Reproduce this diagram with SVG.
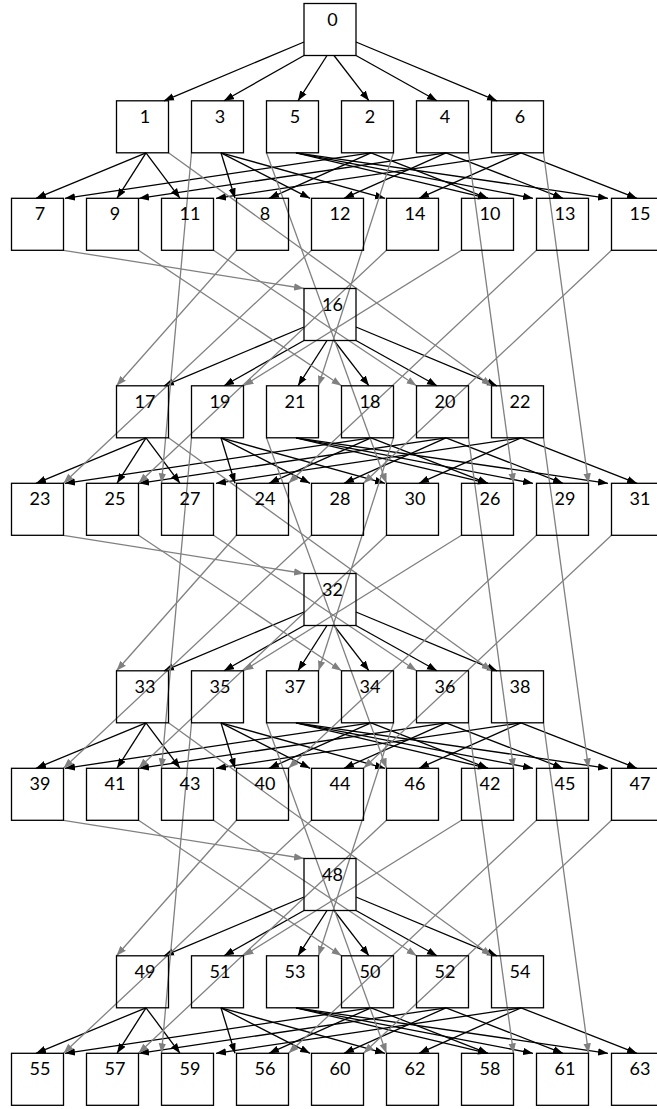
<svg xmlns="http://www.w3.org/2000/svg" width="657" height="1109" viewBox="0 0 657 1109">
<style>
.n rect{fill:none;stroke:#000;stroke-width:1.3}
.n text{font-family:Lato,"Liberation Sans",sans-serif;font-size:18px;text-anchor:middle;fill:#000}
.b line{stroke:#000;stroke-width:1.3;marker-end:url(#ab)}
.g line{stroke:#808080;stroke-width:1.3;marker-end:url(#ag)}
</style>
<defs>
<marker id="ab" markerUnits="userSpaceOnUse" markerWidth="10" markerHeight="8" refX="10" refY="4" orient="auto"><path d="M0,0.3 L10,4 L0,7.7 z" fill="#000"/></marker>
<marker id="ag" markerUnits="userSpaceOnUse" markerWidth="10" markerHeight="8" refX="10" refY="4" orient="auto"><path d="M0,0.3 L10,4 L0,7.7 z" fill="#808080"/></marker>
</defs>
<rect width="657" height="1109" fill="#fff"/>
<g id="connectors">
<g class="b">
<g transform="translate(0,0)">
<line x1="304" y1="42" x2="164" y2="100.8"/><line x1="304" y1="55.5" x2="224" y2="100.8"/><line x1="327" y1="55.5" x2="298" y2="100.8"/><line x1="334" y1="55.5" x2="369" y2="100.8"/><line x1="356" y1="55.5" x2="437" y2="100.8"/><line x1="356" y1="42" x2="497" y2="100.8"/>
<line x1="146" y1="152.8" x2="36" y2="198.3"/><line x1="146" y1="152.8" x2="117" y2="198.3"/><line x1="146" y1="152.8" x2="180" y2="198.3"/>
<line x1="221" y1="152.8" x2="235" y2="198.3"/><line x1="221" y1="152.8" x2="310" y2="198.3"/><line x1="221" y1="152.8" x2="385" y2="198.3"/>
<line x1="296" y1="152.8" x2="488" y2="198.3"/><line x1="296" y1="152.8" x2="533" y2="198.3"/><line x1="296" y1="152.8" x2="608" y2="198.3"/>
<line x1="371" y1="152.8" x2="65" y2="198.3"/><line x1="371" y1="152.8" x2="269" y2="198.3"/><line x1="371" y1="152.8" x2="488" y2="198.3"/>
<line x1="446" y1="152.8" x2="139" y2="198.3"/><line x1="446" y1="152.8" x2="344" y2="198.3"/><line x1="446" y1="152.8" x2="563" y2="198.3"/>
<line x1="521" y1="152.8" x2="216" y2="198.3"/><line x1="521" y1="152.8" x2="419" y2="198.3"/><line x1="521" y1="152.8" x2="637" y2="198.3"/>
</g>
<g transform="translate(0,285)">
<line x1="304" y1="42" x2="164" y2="100.8"/><line x1="304" y1="55.5" x2="224" y2="100.8"/><line x1="327" y1="55.5" x2="298" y2="100.8"/><line x1="334" y1="55.5" x2="369" y2="100.8"/><line x1="356" y1="55.5" x2="437" y2="100.8"/><line x1="356" y1="42" x2="497" y2="100.8"/>
<line x1="146" y1="152.8" x2="36" y2="198.3"/><line x1="146" y1="152.8" x2="117" y2="198.3"/><line x1="146" y1="152.8" x2="180" y2="198.3"/>
<line x1="221" y1="152.8" x2="235" y2="198.3"/><line x1="221" y1="152.8" x2="310" y2="198.3"/><line x1="221" y1="152.8" x2="385" y2="198.3"/>
<line x1="296" y1="152.8" x2="488" y2="198.3"/><line x1="296" y1="152.8" x2="533" y2="198.3"/><line x1="296" y1="152.8" x2="608" y2="198.3"/>
<line x1="371" y1="152.8" x2="65" y2="198.3"/><line x1="371" y1="152.8" x2="269" y2="198.3"/><line x1="371" y1="152.8" x2="488" y2="198.3"/>
<line x1="446" y1="152.8" x2="139" y2="198.3"/><line x1="446" y1="152.8" x2="344" y2="198.3"/><line x1="446" y1="152.8" x2="563" y2="198.3"/>
<line x1="521" y1="152.8" x2="216" y2="198.3"/><line x1="521" y1="152.8" x2="419" y2="198.3"/><line x1="521" y1="152.8" x2="637" y2="198.3"/>
</g>
<g transform="translate(0,570)">
<line x1="304" y1="42" x2="164" y2="100.8"/><line x1="304" y1="55.5" x2="224" y2="100.8"/><line x1="327" y1="55.5" x2="298" y2="100.8"/><line x1="334" y1="55.5" x2="369" y2="100.8"/><line x1="356" y1="55.5" x2="437" y2="100.8"/><line x1="356" y1="42" x2="497" y2="100.8"/>
<line x1="146" y1="152.8" x2="36" y2="198.3"/><line x1="146" y1="152.8" x2="117" y2="198.3"/><line x1="146" y1="152.8" x2="180" y2="198.3"/>
<line x1="221" y1="152.8" x2="235" y2="198.3"/><line x1="221" y1="152.8" x2="310" y2="198.3"/><line x1="221" y1="152.8" x2="385" y2="198.3"/>
<line x1="296" y1="152.8" x2="488" y2="198.3"/><line x1="296" y1="152.8" x2="533" y2="198.3"/><line x1="296" y1="152.8" x2="608" y2="198.3"/>
<line x1="371" y1="152.8" x2="65" y2="198.3"/><line x1="371" y1="152.8" x2="269" y2="198.3"/><line x1="371" y1="152.8" x2="488" y2="198.3"/>
<line x1="446" y1="152.8" x2="139" y2="198.3"/><line x1="446" y1="152.8" x2="344" y2="198.3"/><line x1="446" y1="152.8" x2="563" y2="198.3"/>
<line x1="521" y1="152.8" x2="216" y2="198.3"/><line x1="521" y1="152.8" x2="419" y2="198.3"/><line x1="521" y1="152.8" x2="637" y2="198.3"/>
</g>
<g transform="translate(0,855)">
<line x1="304" y1="42" x2="164" y2="100.8"/><line x1="304" y1="55.5" x2="224" y2="100.8"/><line x1="327" y1="55.5" x2="298" y2="100.8"/><line x1="334" y1="55.5" x2="369" y2="100.8"/><line x1="356" y1="55.5" x2="437" y2="100.8"/><line x1="356" y1="42" x2="497" y2="100.8"/>
<line x1="146" y1="152.8" x2="36" y2="198.3"/><line x1="146" y1="152.8" x2="117" y2="198.3"/><line x1="146" y1="152.8" x2="180" y2="198.3"/>
<line x1="221" y1="152.8" x2="235" y2="198.3"/><line x1="221" y1="152.8" x2="310" y2="198.3"/><line x1="221" y1="152.8" x2="385" y2="198.3"/>
<line x1="296" y1="152.8" x2="488" y2="198.3"/><line x1="296" y1="152.8" x2="533" y2="198.3"/><line x1="296" y1="152.8" x2="608" y2="198.3"/>
<line x1="371" y1="152.8" x2="65" y2="198.3"/><line x1="371" y1="152.8" x2="269" y2="198.3"/><line x1="371" y1="152.8" x2="488" y2="198.3"/>
<line x1="446" y1="152.8" x2="139" y2="198.3"/><line x1="446" y1="152.8" x2="344" y2="198.3"/><line x1="446" y1="152.8" x2="563" y2="198.3"/>
<line x1="521" y1="152.8" x2="216" y2="198.3"/><line x1="521" y1="152.8" x2="419" y2="198.3"/><line x1="521" y1="152.8" x2="637" y2="198.3"/>
</g>
</g>
<g class="g">
<g transform="translate(0,0)">
<line x1="168.5" y1="152.8" x2="491.5" y2="385.8"/><line x1="191.5" y1="152.8" x2="161.5" y2="483.3"/><line x1="266.5" y1="152.8" x2="386.5" y2="483.3"/><line x1="393.5" y1="152.8" x2="318.5" y2="385.8"/><line x1="468.5" y1="152.8" x2="513.5" y2="483.3"/><line x1="543.5" y1="152.8" x2="588.5" y2="483.3"/>
<line x1="63.5" y1="250.3" x2="304" y2="288.5"/><line x1="236.5" y1="250.3" x2="116.5" y2="385.8"/><line x1="138.5" y1="250.3" x2="341.5" y2="385.8"/><line x1="461.5" y1="250.3" x2="243.5" y2="385.8"/><line x1="213.5" y1="250.3" x2="416.5" y2="385.8"/><line x1="311.5" y1="250.3" x2="63.5" y2="483.3"/><line x1="536.5" y1="250.3" x2="288.5" y2="483.3"/><line x1="386.5" y1="250.3" x2="138.5" y2="483.3"/><line x1="611.5" y1="250.3" x2="363.5" y2="483.3"/>
</g>
<g transform="translate(0,285)">
<line x1="168.5" y1="152.8" x2="491.5" y2="385.8"/><line x1="191.5" y1="152.8" x2="161.5" y2="483.3"/><line x1="266.5" y1="152.8" x2="386.5" y2="483.3"/><line x1="393.5" y1="152.8" x2="318.5" y2="385.8"/><line x1="468.5" y1="152.8" x2="513.5" y2="483.3"/><line x1="543.5" y1="152.8" x2="588.5" y2="483.3"/>
<line x1="63.5" y1="250.3" x2="304" y2="288.5"/><line x1="236.5" y1="250.3" x2="116.5" y2="385.8"/><line x1="138.5" y1="250.3" x2="341.5" y2="385.8"/><line x1="461.5" y1="250.3" x2="243.5" y2="385.8"/><line x1="213.5" y1="250.3" x2="416.5" y2="385.8"/><line x1="311.5" y1="250.3" x2="63.5" y2="483.3"/><line x1="536.5" y1="250.3" x2="288.5" y2="483.3"/><line x1="386.5" y1="250.3" x2="138.5" y2="483.3"/><line x1="611.5" y1="250.3" x2="363.5" y2="483.3"/>
</g>
<g transform="translate(0,570)">
<line x1="168.5" y1="152.8" x2="491.5" y2="385.8"/><line x1="191.5" y1="152.8" x2="161.5" y2="483.3"/><line x1="266.5" y1="152.8" x2="386.5" y2="483.3"/><line x1="393.5" y1="152.8" x2="318.5" y2="385.8"/><line x1="468.5" y1="152.8" x2="513.5" y2="483.3"/><line x1="543.5" y1="152.8" x2="588.5" y2="483.3"/>
<line x1="63.5" y1="250.3" x2="304" y2="288.5"/><line x1="236.5" y1="250.3" x2="116.5" y2="385.8"/><line x1="138.5" y1="250.3" x2="341.5" y2="385.8"/><line x1="461.5" y1="250.3" x2="243.5" y2="385.8"/><line x1="213.5" y1="250.3" x2="416.5" y2="385.8"/><line x1="311.5" y1="250.3" x2="63.5" y2="483.3"/><line x1="536.5" y1="250.3" x2="288.5" y2="483.3"/><line x1="386.5" y1="250.3" x2="138.5" y2="483.3"/><line x1="611.5" y1="250.3" x2="363.5" y2="483.3"/>
</g>
</g>
</g>
<g id="nodes">
<g id="n0" class="n"><rect x="304" y="3.5" width="52" height="52"/><text x="332.5" y="25.5">0</text></g>
<g id="n1" class="n"><rect x="116.5" y="100.8" width="52" height="52"/><text x="145" y="122.8">1</text></g>
<g id="n3" class="n"><rect x="191.5" y="100.8" width="52" height="52"/><text x="220" y="122.8">3</text></g>
<g id="n5" class="n"><rect x="266.5" y="100.8" width="52" height="52"/><text x="295" y="122.8">5</text></g>
<g id="n2" class="n"><rect x="341.5" y="100.8" width="52" height="52"/><text x="370" y="122.8">2</text></g>
<g id="n4" class="n"><rect x="416.5" y="100.8" width="52" height="52"/><text x="445" y="122.8">4</text></g>
<g id="n6" class="n"><rect x="491.5" y="100.8" width="52" height="52"/><text x="520" y="122.8">6</text></g>
<g id="n7" class="n"><rect x="11.5" y="198.3" width="52" height="52"/><text x="40" y="220.3">7</text></g>
<g id="n9" class="n"><rect x="86.5" y="198.3" width="52" height="52"/><text x="115" y="220.3">9</text></g>
<g id="n11" class="n"><rect x="161.5" y="198.3" width="52" height="52"/><text x="190" y="220.3">11</text></g>
<g id="n8" class="n"><rect x="236.5" y="198.3" width="52" height="52"/><text x="265" y="220.3">8</text></g>
<g id="n12" class="n"><rect x="311.5" y="198.3" width="52" height="52"/><text x="340" y="220.3">12</text></g>
<g id="n14" class="n"><rect x="386.5" y="198.3" width="52" height="52"/><text x="415" y="220.3">14</text></g>
<g id="n10" class="n"><rect x="461.5" y="198.3" width="52" height="52"/><text x="490" y="220.3">10</text></g>
<g id="n13" class="n"><rect x="536.5" y="198.3" width="52" height="52"/><text x="565" y="220.3">13</text></g>
<g id="n15" class="n"><rect x="611.5" y="198.3" width="52" height="52"/><text x="640" y="220.3">15</text></g>
<g id="n16" class="n"><rect x="304" y="288.5" width="52" height="52"/><text x="332.5" y="310.5">16</text></g>
<g id="n17" class="n"><rect x="116.5" y="385.8" width="52" height="52"/><text x="145" y="407.8">17</text></g>
<g id="n19" class="n"><rect x="191.5" y="385.8" width="52" height="52"/><text x="220" y="407.8">19</text></g>
<g id="n21" class="n"><rect x="266.5" y="385.8" width="52" height="52"/><text x="295" y="407.8">21</text></g>
<g id="n18" class="n"><rect x="341.5" y="385.8" width="52" height="52"/><text x="370" y="407.8">18</text></g>
<g id="n20" class="n"><rect x="416.5" y="385.8" width="52" height="52"/><text x="445" y="407.8">20</text></g>
<g id="n22" class="n"><rect x="491.5" y="385.8" width="52" height="52"/><text x="520" y="407.8">22</text></g>
<g id="n23" class="n"><rect x="11.5" y="483.3" width="52" height="52"/><text x="40" y="505.3">23</text></g>
<g id="n25" class="n"><rect x="86.5" y="483.3" width="52" height="52"/><text x="115" y="505.3">25</text></g>
<g id="n27" class="n"><rect x="161.5" y="483.3" width="52" height="52"/><text x="190" y="505.3">27</text></g>
<g id="n24" class="n"><rect x="236.5" y="483.3" width="52" height="52"/><text x="265" y="505.3">24</text></g>
<g id="n28" class="n"><rect x="311.5" y="483.3" width="52" height="52"/><text x="340" y="505.3">28</text></g>
<g id="n30" class="n"><rect x="386.5" y="483.3" width="52" height="52"/><text x="415" y="505.3">30</text></g>
<g id="n26" class="n"><rect x="461.5" y="483.3" width="52" height="52"/><text x="490" y="505.3">26</text></g>
<g id="n29" class="n"><rect x="536.5" y="483.3" width="52" height="52"/><text x="565" y="505.3">29</text></g>
<g id="n31" class="n"><rect x="611.5" y="483.3" width="52" height="52"/><text x="640" y="505.3">31</text></g>
<g id="n32" class="n"><rect x="304" y="573.5" width="52" height="52"/><text x="332.5" y="595.5">32</text></g>
<g id="n33" class="n"><rect x="116.5" y="670.8" width="52" height="52"/><text x="145" y="692.8">33</text></g>
<g id="n35" class="n"><rect x="191.5" y="670.8" width="52" height="52"/><text x="220" y="692.8">35</text></g>
<g id="n37" class="n"><rect x="266.5" y="670.8" width="52" height="52"/><text x="295" y="692.8">37</text></g>
<g id="n34" class="n"><rect x="341.5" y="670.8" width="52" height="52"/><text x="370" y="692.8">34</text></g>
<g id="n36" class="n"><rect x="416.5" y="670.8" width="52" height="52"/><text x="445" y="692.8">36</text></g>
<g id="n38" class="n"><rect x="491.5" y="670.8" width="52" height="52"/><text x="520" y="692.8">38</text></g>
<g id="n39" class="n"><rect x="11.5" y="768.3" width="52" height="52"/><text x="40" y="790.3">39</text></g>
<g id="n41" class="n"><rect x="86.5" y="768.3" width="52" height="52"/><text x="115" y="790.3">41</text></g>
<g id="n43" class="n"><rect x="161.5" y="768.3" width="52" height="52"/><text x="190" y="790.3">43</text></g>
<g id="n40" class="n"><rect x="236.5" y="768.3" width="52" height="52"/><text x="265" y="790.3">40</text></g>
<g id="n44" class="n"><rect x="311.5" y="768.3" width="52" height="52"/><text x="340" y="790.3">44</text></g>
<g id="n46" class="n"><rect x="386.5" y="768.3" width="52" height="52"/><text x="415" y="790.3">46</text></g>
<g id="n42" class="n"><rect x="461.5" y="768.3" width="52" height="52"/><text x="490" y="790.3">42</text></g>
<g id="n45" class="n"><rect x="536.5" y="768.3" width="52" height="52"/><text x="565" y="790.3">45</text></g>
<g id="n47" class="n"><rect x="611.5" y="768.3" width="52" height="52"/><text x="640" y="790.3">47</text></g>
<g id="n48" class="n"><rect x="304" y="858.5" width="52" height="52"/><text x="332.5" y="880.5">48</text></g>
<g id="n49" class="n"><rect x="116.5" y="955.8" width="52" height="52"/><text x="145" y="977.8">49</text></g>
<g id="n51" class="n"><rect x="191.5" y="955.8" width="52" height="52"/><text x="220" y="977.8">51</text></g>
<g id="n53" class="n"><rect x="266.5" y="955.8" width="52" height="52"/><text x="295" y="977.8">53</text></g>
<g id="n50" class="n"><rect x="341.5" y="955.8" width="52" height="52"/><text x="370" y="977.8">50</text></g>
<g id="n52" class="n"><rect x="416.5" y="955.8" width="52" height="52"/><text x="445" y="977.8">52</text></g>
<g id="n54" class="n"><rect x="491.5" y="955.8" width="52" height="52"/><text x="520" y="977.8">54</text></g>
<g id="n55" class="n"><rect x="11.5" y="1053.3" width="52" height="52"/><text x="40" y="1075.3">55</text></g>
<g id="n57" class="n"><rect x="86.5" y="1053.3" width="52" height="52"/><text x="115" y="1075.3">57</text></g>
<g id="n59" class="n"><rect x="161.5" y="1053.3" width="52" height="52"/><text x="190" y="1075.3">59</text></g>
<g id="n56" class="n"><rect x="236.5" y="1053.3" width="52" height="52"/><text x="265" y="1075.3">56</text></g>
<g id="n60" class="n"><rect x="311.5" y="1053.3" width="52" height="52"/><text x="340" y="1075.3">60</text></g>
<g id="n62" class="n"><rect x="386.5" y="1053.3" width="52" height="52"/><text x="415" y="1075.3">62</text></g>
<g id="n58" class="n"><rect x="461.5" y="1053.3" width="52" height="52"/><text x="490" y="1075.3">58</text></g>
<g id="n61" class="n"><rect x="536.5" y="1053.3" width="52" height="52"/><text x="565" y="1075.3">61</text></g>
<g id="n63" class="n"><rect x="611.5" y="1053.3" width="52" height="52"/><text x="640" y="1075.3">63</text></g>
</g>
</svg>
